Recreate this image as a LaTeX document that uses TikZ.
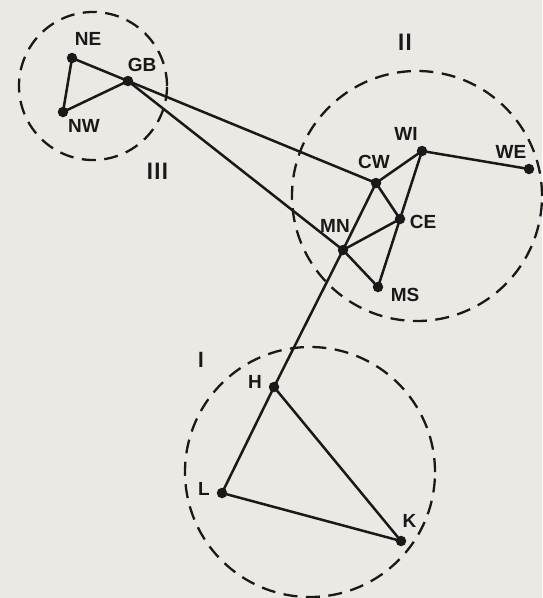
\documentclass[tikz,border=0pt]{standalone}
\usepackage{fontspec}
\setmainfont{Liberation Sans}
\definecolor{paper}{RGB}{236,233,228}
\definecolor{ink}{RGB}{25,25,25}
\begin{document}
\begin{tikzpicture}[x=1pt,y=-1pt,
  dot/.style={circle,fill=ink,inner sep=0pt,minimum size=10.5pt},
  lbl/.style={text=ink,font=\fontsize{19}{21}\selectfont\bfseries,inner sep=0pt},
  num/.style={text=ink,font=\fontsize{17}{21}\selectfont\bfseries,inner sep=0pt},
  zone/.style={circle,draw=ink,line width=2.3pt,dash pattern=on 14pt off 8.5pt,inner sep=0pt},
  edge/.style={draw=ink,line width=2.5pt}]
\fill[paper] (0,0) rectangle (542,598);
\useasboundingbox (0,0) rectangle (542,598);
% zones
\node[zone,minimum size=148pt] (zIII) at (93,86) {};
\node[zone,minimum size=250pt] (zII) at (417,196) {};
\node[zone,minimum size=250pt] (zI) at (310,472) {};
% zone labels
\node[num] (tIII) at (157.5,171) {\scalebox{1.3}[1.4]{I\kern1pt I\kern1pt I}};
\node[num] (tII) at (405,42) {\scalebox{1.3}[1.4]{I\kern1pt I}};
\node[num] (tI) at (201,359.5) {\scalebox{1.2}[1.3]{I}};
% towns
\node[dot] (NE) at (72,58) {};
\node[dot] (GB) at (128,81) {};
\node[dot] (NW) at (63,112) {};
\node[dot] (WI) at (422,151) {};
\node[dot] (WE) at (529,169) {};
\node[dot] (CW) at (376,183) {};
\node[dot] (CE) at (400,219) {};
\node[dot] (MN) at (343,250) {};
\node[dot] (MS) at (378,287) {};
\node[dot] (H) at (274,387) {};
\node[dot] (L) at (222,493) {};
\node[dot] (K) at (401,541) {};
% labels
\node[lbl] (lNE) at (88,39) {NE};
\node[lbl] (lGB) at (142,65) {GB};
\node[lbl] (lNW) at (84,126) {NW};
\node[lbl] (lWI) at (406,133.5) {WI};
\node[lbl] (lWE) at (511,152) {WE};
\node[lbl] (lCW) at (374,161.5) {CW};
\node[lbl] (lCE) at (423,222) {CE};
\node[lbl] (lMN) at (335,226) {MN};
\node[lbl] (lMS) at (405,294.5) {MS};
\node[lbl] (lH) at (255,381.5) {H};
\node[lbl] (lL) at (204,488.5) {L};
\node[lbl] (lK) at (409.5,520.5) {K};
% connections
\draw[edge] (NE.center) -- (GB.center);
\draw[edge] (NE.center) -- (NW.center);
\draw[edge] (NW.center) -- (GB.center);
\draw[edge] (GB.center) -- (CW.center);
\draw[edge] (GB.center) -- (MN.center);
\draw[edge] (CW.center) -- (WI.center);
\draw[edge] (WI.center) -- (WE.center);
\draw[edge] (CW.center) -- (CE.center);
\draw[edge] (CW.center) -- (MN.center);
\draw[edge] (WI.center) -- (CE.center);
\draw[edge] (CE.center) -- (MS.center);
\draw[edge] (MN.center) -- (CE.center);
\draw[edge] (MN.center) -- (MS.center);
\draw[edge] (MN.center) -- (H.center);
\draw[edge] (H.center) -- (L.center);
\draw[edge] (H.center) -- (K.center);
\draw[edge] (L.center) -- (K.center);
\end{tikzpicture}
\end{document}
